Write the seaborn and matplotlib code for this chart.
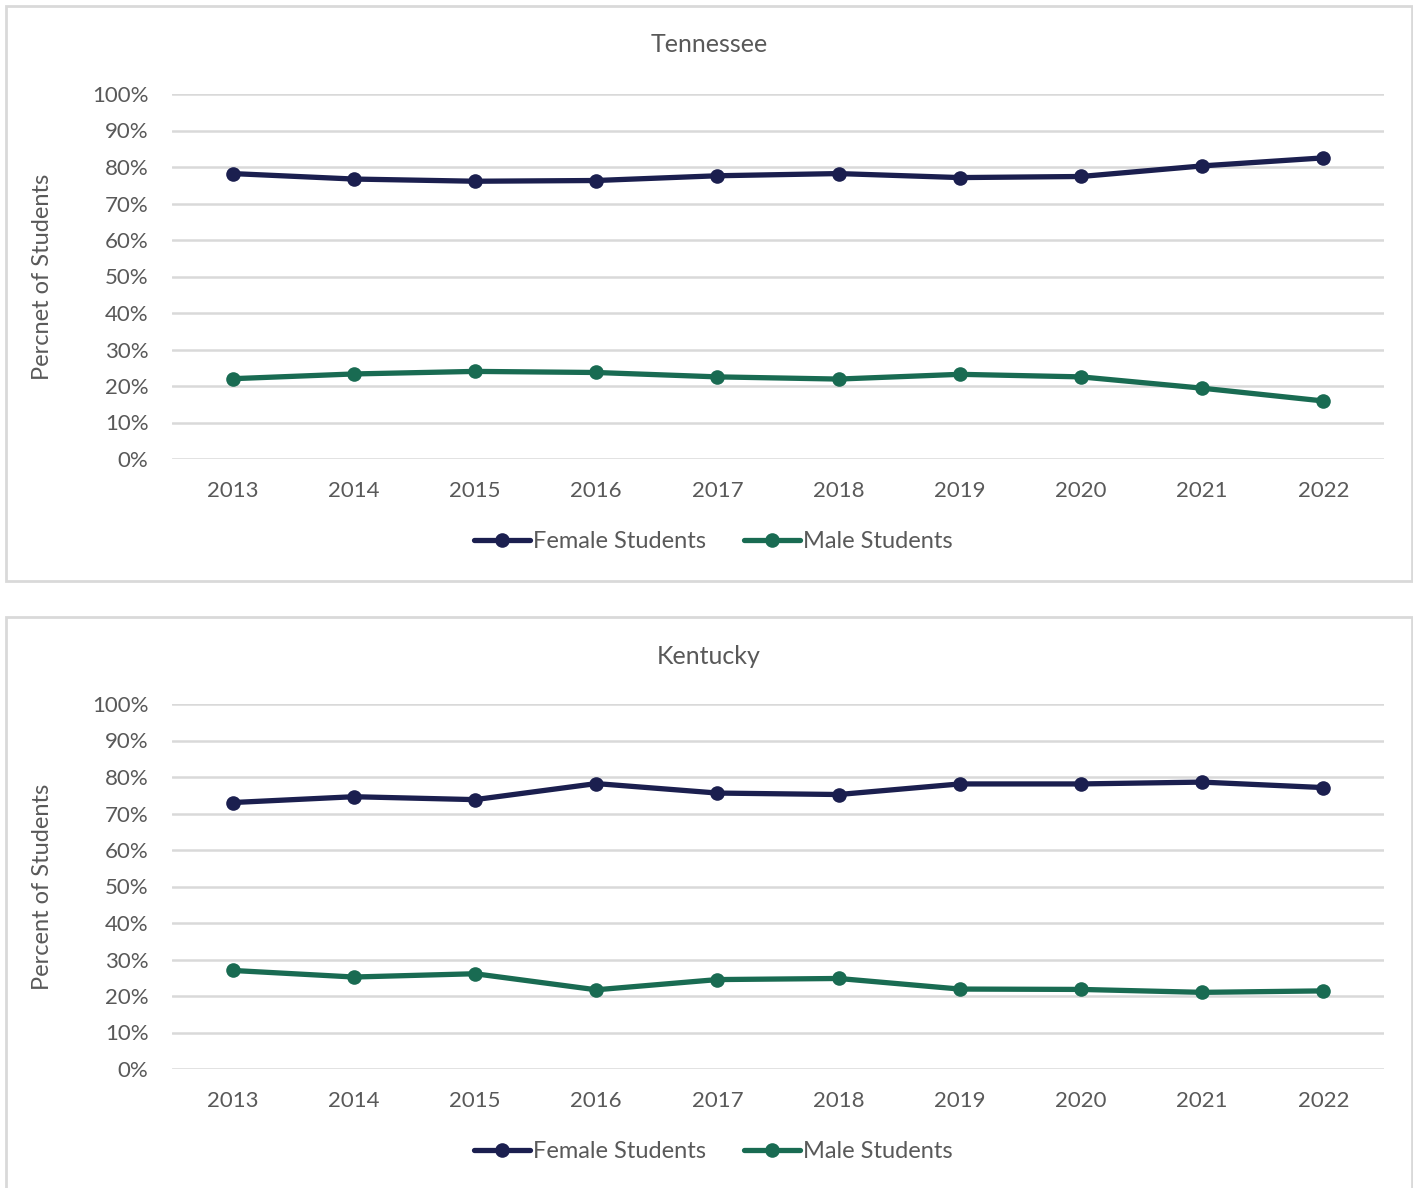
import numpy as np
import pandas as pd
import matplotlib
matplotlib.use("Agg")
import matplotlib.pyplot as plt
from matplotlib.patches import Rectangle
import seaborn as sns

# 数据
years = ["2013", "2014", "2015", "2016", "2017", "2018", "2019", "2020", "2021", "2022"]
tn_female = [78.2, 76.7, 76.1, 76.3, 77.6, 78.2, 77.1, 77.4, 80.3, 82.5]
tn_male = [22.0, 23.3, 24.0, 23.7, 22.5, 21.9, 23.2, 22.5, 19.4, 15.9]
ky_female = [73.0, 74.6, 73.8, 78.2, 75.6, 75.2, 78.1, 78.1, 78.6, 77.1]
ky_male = [27.0, 25.2, 26.1, 21.7, 24.5, 24.8, 21.9, 21.8, 21.0, 21.4]
series_names = ["Female Students", "Male Students"]
yticks = [0, 10, 20, 30, 40, 50, 60, 70, 80, 90, 100]

sns.set_theme(style="white")
plt.rcParams["font.family"] = ["Lato", "DejaVu Sans"]

TXT = "#595959"
GRID = "#d9d9d9"
palette = {"Female Students": "#1b1f4f", "Male Students": "#196b52"}

W, H = 1413, 1188
fig = plt.figure(figsize=(W / 100, H / 100), dpi=100)

def fx(px):
    return px / W

def fy(py):
    return 1 - py / H

panels = [
    ("Tennessee", "Percnet of Students", tn_female, tn_male, 6, 581, 94, 459, 45, 542),
    ("Kentucky", "Percent of Students", ky_female, ky_male, 617, 1200, 704, 1069, 656, 1152),
]

for title, ylab, fem, mal, box_top, box_bot, ax_top, ax_bot, title_y, leg_y in panels:
    # 外框
    fig.patches.append(Rectangle((fx(6), fy(box_bot)), fx(1412 - 6), (box_bot - box_top) / H,
                                 transform=fig.transFigure, fill=False,
                                 edgecolor=GRID, linewidth=2, zorder=0))
    ax = fig.add_axes([fx(172), fy(ax_bot), fx(1384 - 172), (ax_bot - ax_top) / H])
    df = pd.DataFrame({
        "year": years * 2,
        "value": fem + mal,
        "series": [series_names[0]] * len(years) + [series_names[1]] * len(years),
    })
    sns.lineplot(data=df, x="year", y="value", hue="series", palette=palette,
                 marker="o", markersize=10.5, markeredgewidth=0, linewidth=3.8,
                 sort=False, ax=ax, legend=False)
    ax.set_xlim(-0.5, len(years) - 0.5)
    ax.set_ylim(0, 100)
    ax.set_yticks(yticks)
    ax.set_yticklabels([f"{t}%" for t in yticks])
    ax.yaxis.grid(True, color=GRID, linewidth=1.8)
    ax.set_axisbelow(True)
    for s in ax.spines.values():
        s.set_visible(False)
    ax.tick_params(axis="both", length=0, labelsize=16, labelcolor=TXT)
    ax.tick_params(axis="x", pad=16)
    ax.tick_params(axis="y", pad=17)
    ax.set_xlabel("")
    ax.set_ylabel("")
    fig.text(fx(43), fy((ax_top + ax_bot) / 2), ylab, rotation=90, ha="center", va="center",
             fontsize=17, color=TXT)
    fig.text(fx(709), fy(title_y), title, ha="center", va="center", fontsize=18, color=TXT)
    handles = [plt.Line2D([], [], color=palette[n], marker="o", markersize=10.5,
                          linewidth=3.8, markeredgewidth=0) for n in series_names]
    fig.legend(handles, series_names, loc="center", bbox_to_anchor=(fx(713), fy(leg_y)),
               ncol=2, frameon=False, fontsize=17, labelcolor=TXT,
               handlelength=2.4, handletextpad=0.1, columnspacing=1.6)

fig.savefig("out.png", dpi=100)
